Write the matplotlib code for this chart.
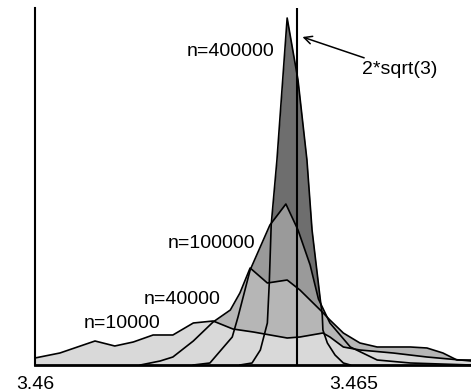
import matplotlib
matplotlib.use("Agg")
import matplotlib.pyplot as plt
import numpy as np

plt.rcParams['font.family'] = ['Liberation Sans', 'DejaVu Sans']

# estimates of 2*sqrt(3), histogram outlines
x_10k = [3.46000, 3.46039, 3.46094, 3.46125, 3.46154, 3.46185, 3.46216, 3.46248,
         3.46279, 3.46310, 3.46342, 3.46395, 3.46415, 3.46451, 3.46462, 3.46483,
         3.46509, 3.46561, 3.46614, 3.46666, 3.46683]
h_10k = [7, 12, 24, 19, 23, 30, 30, 42, 44, 36, 33, 27, 28, 32, 28, 18, 15, 12, 8, 5, 4]

x_40k = [3.46165, 3.46196, 3.46216, 3.46248, 3.46279, 3.46306, 3.46321, 3.46337,
         3.46364, 3.46395, 3.46415, 3.46450, 3.46462, 3.46483, 3.46509, 3.46536,
         3.46588, 3.46614, 3.46639, 3.46661, 3.46683]
h_40k = [0, 4, 8, 24, 43, 55, 72, 97, 82, 85, 75, 53, 45, 32, 22, 18, 18, 17, 12, 5, 5]

x_100k = [3.46248, 3.46274, 3.46309, 3.46318, 3.46337, 3.46368, 3.46393, 3.46412,
          3.46431, 3.46444, 3.46462, 3.46494, 3.46536, 3.46588, 3.46635, 3.46683]
h_100k = [0, 2, 28, 48, 95, 140, 161, 135, 100, 66, 42, 18, 5, 2, 1, 0]

x_400k = [3.46321, 3.46340, 3.46353, 3.46364, 3.46367, 3.46370, 3.46379, 3.46395,
          3.46412, 3.46426, 3.46434, 3.46447, 3.46450, 3.46451, 3.46458, 3.46470,
          3.46483, 3.46494]
h_400k = [0, 2, 15, 42, 82, 140, 205, 347, 285, 205, 135, 65, 50, 35, 22, 10, 2, 0]

series = [
    ("n=400000", x_400k, h_400k, "#6e6e6e", (3.46306, 313)),
    ("n=100000", x_100k, h_100k, "#9a9a9a", (3.46277, 122)),
    ("n=40000", x_40k, h_40k, "#b6b6b6", (3.46230, 65)),
    ("n=10000", x_10k, h_10k, "#d9d9d9", (3.46136, 42)),
]

fig = plt.figure(figsize=(4.71, 3.92), dpi=100)
ax = fig.add_axes([35 / 471, 27 / 392, 436 / 471, 357 / 392])

# fills from darkest (back) to lightest (front), outlines on top
for i, (name, xs, hs, col, pos) in enumerate(series):
    ax.fill_between(xs, 0, hs, color=col, lw=0, zorder=1 + i)
for name, xs, hs, col, pos in series:
    ax.plot(xs, hs, color='black', lw=1.2, zorder=10)
    ax.text(pos[0], pos[1], name, ha='center', va='center', fontsize=14, zorder=12)

root = 2 * np.sqrt(3)
ax.axvline(root, color='black', lw=1.5, zorder=11)
ax.annotate("2*sqrt(3)", xy=(3.46419, 328), xytext=(3.46513, 295),
            ha='left', va='center', fontsize=14,
            arrowprops=dict(arrowstyle='->', lw=1.1, color='black', shrinkA=2, shrinkB=0))

ax.set_xlim(3.46, 3.46683)
ax.set_ylim(0, 357)
ax.set_xticks([3.46, 3.465])
ax.set_xticklabels(["3.46", "3.465"], fontsize=14)
ax.set_yticks([])
ax.tick_params(axis='x', direction='in', length=5, width=1.2, pad=8)
for s in ['top', 'right']:
    ax.spines[s].set_visible(False)
ax.spines['left'].set_linewidth(1.5)
ax.spines['bottom'].set_linewidth(2.0)
ax.spines['left'].set_zorder(13)
ax.spines['bottom'].set_zorder(13)

fig.savefig("out.png", dpi=100)
